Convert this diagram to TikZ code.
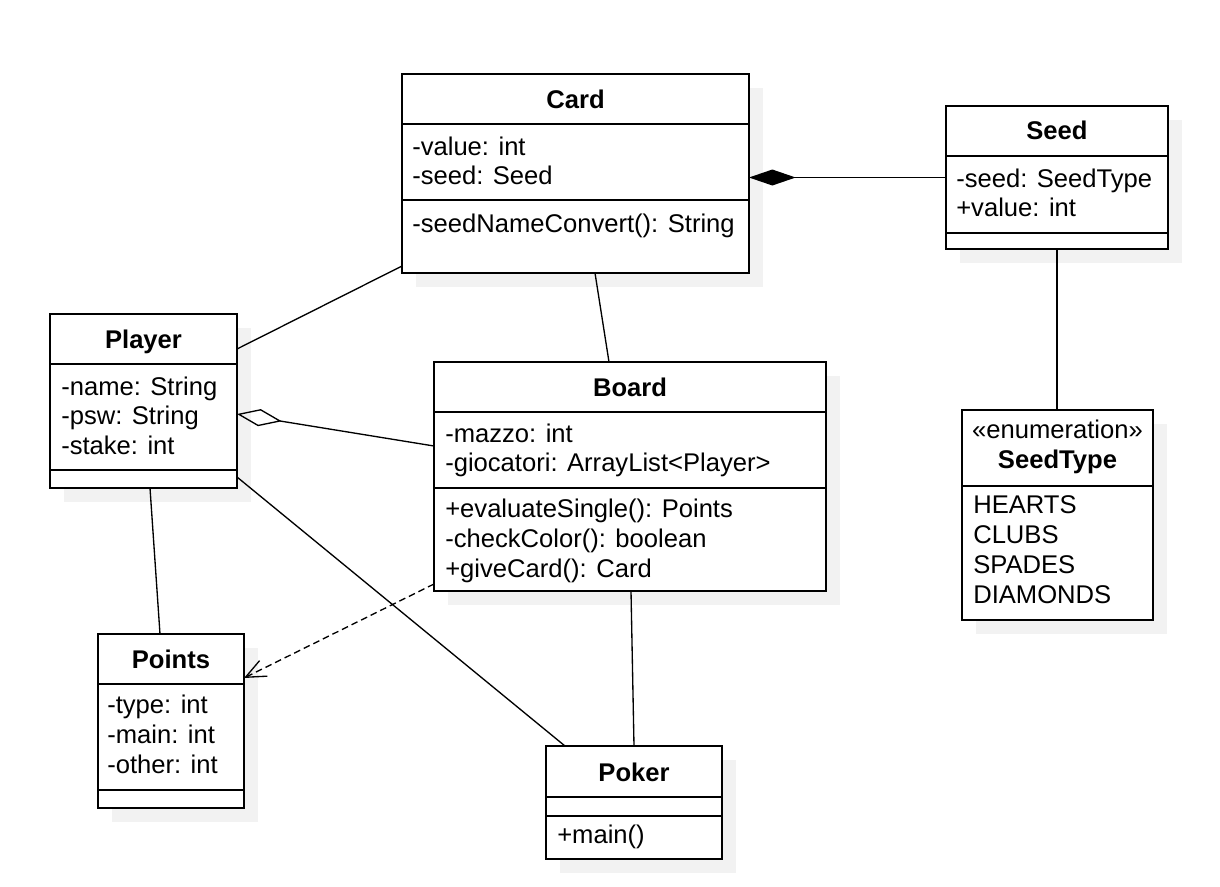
\documentclass[tikz,border=0pt]{standalone}
\usepackage{fontspec}
\setmainfont{Liberation Sans}
\usetikzlibrary{fit,arrows.meta}
\definecolor{shadowc}{HTML}{F2F2F2}
\tikzset{
  x=0.75pt, y=-0.75pt,
  box/.style={draw, line width=1.4pt, fill=white, inner sep=0pt, outer sep=0pt},
  divider/.style={line width=1.4pt},
  shd/.style={fill=shadowc},
  txt/.style={inner sep=0pt, anchor=base west, font=\fontsize{19.2pt}{22pt}\selectfont},
  ttl/.style={inner sep=0pt, anchor=base, font=\fontsize{19.2pt}{22pt}\selectfont\bfseries},
  conn/.style={line width=1pt},
}
\begin{document}
\begin{tikzpicture}
\useasboundingbox (0,0) rectangle (1220,886);
% shadows
\fill[shd] (416,88) rectangle (763,287);
\fill[shd] (960,120) rectangle (1182,263);
\fill[shd] (64,328) rectangle (251,502);
\fill[shd] (448,376) rectangle (840,605);
\fill[shd] (976,424) rectangle (1167,634);
\fill[shd] (112,648) rectangle (258,822);
\fill[shd] (560,760) rectangle (736,873);
% boxes
\node[box, fit={(402,74) (749,273)}] (card) {};
\node[box, fit={(946,106) (1168,249)}] (seed) {};
\node[box, fit={(50,314) (237,488)}] (player) {};
\node[box, fit={(434,362) (826,591)}] (board) {};
\node[box, fit={(962,410) (1153,620)}] (seedtype) {};
\node[box, fit={(98,634) (244,808)}] (points) {};
\node[box, fit={(546,746) (722,859)}] (poker) {};
% dividers
\draw[divider] (402,124) -- (749,124);
\draw[divider] (402,200) -- (749,200);
\draw[divider] (946,156) -- (1168,156);
\draw[divider] (946,233) -- (1168,233);
\draw[divider] (50,364) -- (237,364);
\draw[divider] (50,470) -- (237,470);
\draw[divider] (434,412) -- (826,412);
\draw[divider] (434,488) -- (826,488);
\draw[divider] (962,486) -- (1153,486);
\draw[divider] (98,684) -- (244,684);
\draw[divider] (98,790) -- (244,790);
\draw[divider] (546,797) -- (722,797);
\draw[divider] (546,816) -- (722,816);
% Card
\node[ttl] (cardT) at (575.5,108) {Card};
\node[txt] (cardA1) at (412,155) {-value: int};
\node[txt] (cardA2) at (412,184) {-seed: Seed};
\node[txt] (cardM1) at (412,232) {-seedNameConvert(): String};
% Seed
\node[ttl] (seedT) at (1057,139) {Seed};
\node[txt] (seedA1) at (956,187) {-seed: SeedType};
\node[txt] (seedA2) at (956,216) {+value: int};
% Player
\node[ttl] (playerT) at (143.5,348) {Player};
\node[txt] (playerA1) at (61,395) {-name: String};
\node[txt] (playerA2) at (61,424) {-psw: String};
\node[txt] (playerA3) at (61,454) {-stake: int};
% Board
\node[ttl] (boardT) at (630,396) {Board};
\node[txt] (boardA1) at (445,442) {-mazzo: int};
\node[txt] (boardA2) at (445,471) {-giocatori: ArrayList<Player>};
\node[txt] (boardM1) at (445,517) {+evaluateSingle(): Points};
\node[txt] (boardM2) at (445,547) {-checkColor(): boolean};
\node[txt] (boardM3) at (445,577) {+giveCard(): Card};
% SeedType
\node[txt, anchor=base] (stS) at (1057.5,438) {«enumeration»};
\node[ttl] (stT) at (1057.5,468) {SeedType};
\node[txt] (stV1) at (973,513) {HEARTS};
\node[txt] (stV2) at (973,543) {CLUBS};
\node[txt] (stV3) at (973,573) {SPADES};
\node[txt] (stV4) at (973,603) {DIAMONDS};
% Points
\node[ttl] (pointsT) at (171,668) {Points};
\node[txt] (pointsA1) at (107,713) {-type: int};
\node[txt] (pointsA2) at (107,743) {-main: int};
\node[txt] (pointsA3) at (107,773) {-other: int};
% Poker
\node[ttl] (pokerT) at (634,781) {Poker};
\node[txt] (pokerM1) at (557,843) {+main()};
% connectors
\draw[conn, {Diamond[length=35pt,width=12pt]}-] (card.east |- seed.west) -- (seed.west);
\draw[conn] ([shift={(0,-7)}]card.south west) -- ([shift={(0,35)}]player.north east);
\draw[conn] ([shift={(19.5,0)}]card.south) -- ([shift={(-21,0)}]board.north);
\draw[conn] (seed.south) -- (seed.south |- seedtype.north);
\draw[conn, {Diamond[open,length=34pt,width=13pt]}-] ([shift={(0,100)}]player.north east) -- ([shift={(0,84)}]board.north west);
\draw[conn] ([shift={(6.5,0)}]player.south) -- ([shift={(-11,0)}]points.north);
\draw[conn] ([shift={(0,-11)}]player.south east) -- ([shift={(19,0)}]poker.north west);
\draw[conn, dash pattern=on 5pt off 3pt, -{Straight Barb[length=15pt,width=13pt]}] ([shift={(0,-7)}]board.south west) -- ([shift={(0,44)}]points.north east);
\draw[conn] ([shift={(1,0)}]board.south) -- (poker.north);
\end{tikzpicture}
\end{document}
